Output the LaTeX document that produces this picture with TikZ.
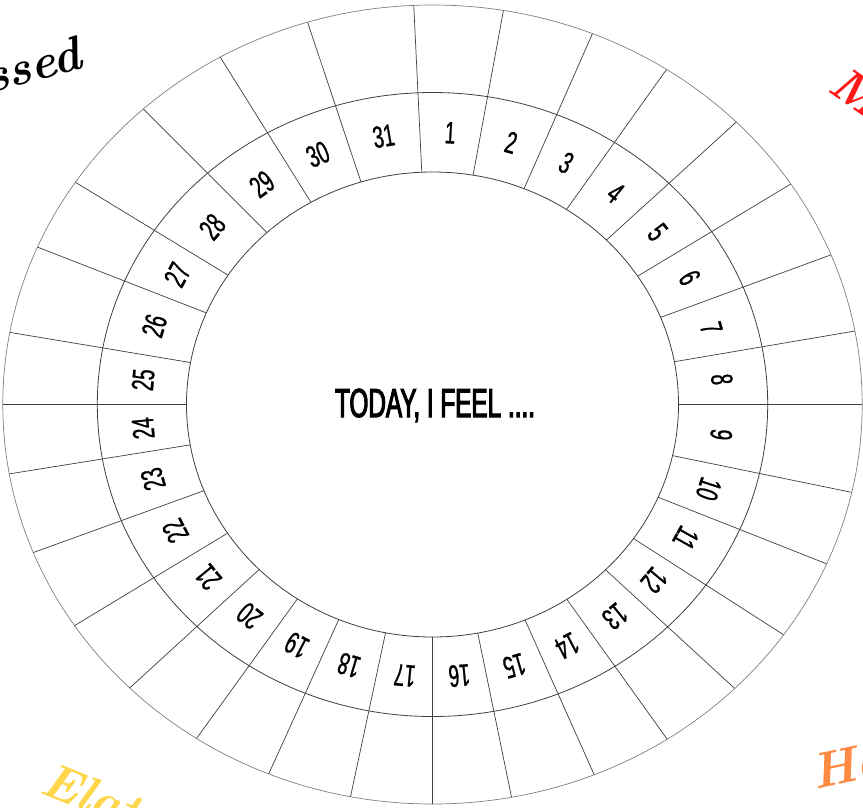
\documentclass[tikz,border=0pt]{standalone}
\usepackage{fontspec}
\newfontfamily\numfont[FakeStretch=0.62,FakeBold=0.8]{Liberation Sans}
\newfontfamily\titlefont[FakeStretch=0.6,FakeBold=2.6]{Liberation Sans}
\definecolor{madred}{RGB}{255,24,24}
\definecolor{happyorange}{RGB}{255,138,66}
\definecolor{elatedyellow}{RGB}{255,214,74}
\begin{document}
\begin{tikzpicture}[x=1pt,y=-1pt,
  ring/.style={draw=black!75, line width=0.8pt},
  outerring/.style={draw=black!50, line width=0.7pt},
  spoke/.style={draw=black!75, line width=0.7pt},
  daynum/.style={font=\numfont\fontsize{31}{31}\selectfont, inner sep=0pt},
  titletext/.style={font=\titlefont\fontsize{40.5}{40.5}\selectfont, inner sep=0pt, anchor=base},
  mood/.style={font=\bfseries\itshape\fontsize{42}{42}\selectfont, inner sep=0pt}]
\useasboundingbox (0,0) rectangle (863,807);
\fill[white] (0,0) rectangle (863,807);
\coordinate (c) at (432.5,404.5);
% rings
\draw[outerring] (c) ellipse [x radius=429.7pt, y radius=399.5pt];
\draw[ring] (c) ellipse [x radius=335.2pt, y radius=312pt];
\draw[ring] (c) ellipse [x radius=246pt, y radius=232.5pt];
% spokes
\foreach \a [count=\i] in {357.5,9.5,21.85,33,45,56.5,68,79.4,90,102.7,113.5,125.2,135.3,146.9,157.9,169.4,180,191,202.4,213.3,224.8,236.4,248.25,260,270,280.4,293.2,303.8,317.7,330.4,343.1} {
  \coordinate (i\i) at ({432.5+246*sin(\a)},{404.5-232.5*cos(\a)});
  \coordinate (o\i) at ({432.5+429.7*sin(\a)},{404.5-399.5*cos(\a)});
  \draw[spoke] (i\i) -- (o\i);
}
% day numbers
\foreach \a [count=\i] in {3.5,15.7,27.4,39,50.75,62.25,73.7,84.7,96.35,108.1,119.35,130.25,141.1,152.4,163.65,174.7,185.5,196.7,207.85,219.05,230.6,242.3,254.1,265,275.2,286.8,298.5,310.75,324.05,336.75,350.3} {
  \node[daynum, rotate=-\a] (d\i) at ({432.5+290.6*sin(\a)},{404.5-272.25*cos(\a)}) {\i};
}
% centre text
\node[titletext] (title) at (435,417) {TODAY, I FEEL ....};
% mood words in the corners
\begin{scope}
\clip (0,0) rectangle (863,807);
\node[mood, anchor=base east, rotate=15, text=black, font=\bfseries\itshape\fontsize{48}{48}\selectfont] (dep) at (84,68) {Depressed};
\node[mood, anchor=base west, rotate=-35, text=madred, font=\bfseries\itshape\fontsize{48}{48}\selectfont] (mad) at (826,90) {Mad};
\node[mood, anchor=base west, rotate=12, text=happyorange, font=\bfseries\itshape\fontsize{50}{50}\selectfont] (hap) at (815,790) {Happy};
\node[mood, anchor=base west, rotate=-22, text=elatedyellow, font=\bfseries\itshape\fontsize{50}{50}\selectfont] (ela) at (38,792) {Elated};
\end{scope}
\end{tikzpicture}
\end{document}
